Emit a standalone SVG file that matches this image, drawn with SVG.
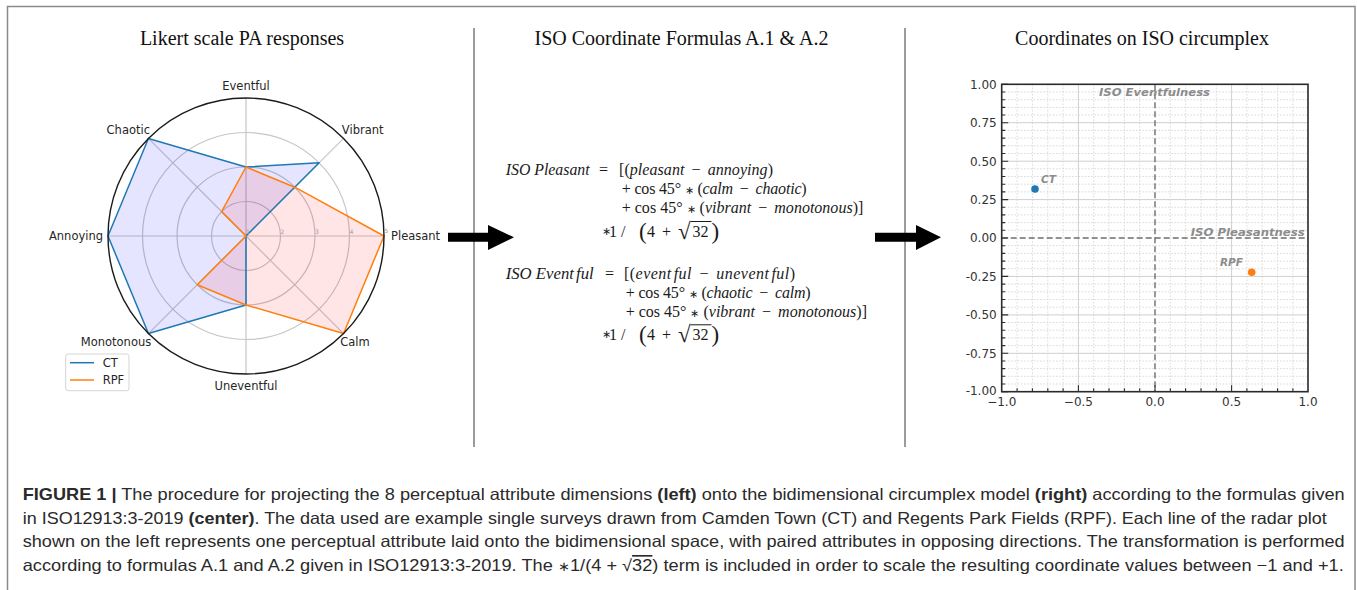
<svg xmlns="http://www.w3.org/2000/svg" width="1357" height="590" viewBox="0 0 1357 590">
<style>
.title{font-family:"Liberation Serif","Times New Roman",serif;font-size:20px;fill:#111;text-anchor:middle}
.lab{font-family:"DejaVu Sans",Verdana,sans-serif;font-size:11.5px;fill:#262626}
.rt{font-family:"DejaVu Sans",sans-serif;font-size:6px;fill:#9a9a9a}
.f{font-family:"Liberation Serif","Times New Roman",serif;font-size:16px;fill:#1a1a1a}
.i{font-style:italic}
.ast{font-size:11px}
.big{font-size:23px}
.tick{font-family:"DejaVu Sans",Verdana,sans-serif;font-size:12px;fill:#333}
.ann{font-family:"DejaVu Sans",Verdana,sans-serif;font-weight:bold;font-style:italic;fill:#8c8c8c}
.cap{font-family:"Liberation Sans",Arial,sans-serif;font-size:16.5px;fill:#2a2a2a}
.b{font-weight:bold}
.ring{fill:none;stroke:#c6c6c6;stroke-width:1.2}
</style>

<g id="frame">
<rect x="7.5" y="6.5" width="1347.5" height="620" fill="none" stroke="#8a8a8a" stroke-width="1.5"/>
<line x1="474" y1="28" x2="474" y2="447" stroke="#7a7a7a" stroke-width="1.5"/>
<line x1="905" y1="28" x2="905" y2="447" stroke="#7a7a7a" stroke-width="1.5"/>
</g>

<g id="panel-radar">
<text class="title" x="242" y="45">Likert  scale PA responses</text>
<circle class="ring" cx="246" cy="236" r="34.5"/>
<circle class="ring" cx="246" cy="236" r="69"/>
<circle class="ring" cx="246" cy="236" r="103.5"/>
<path d="M246 236L246 98M246 236L343.58 138.42M246 236L384 236M246 236L343.58 333.58M246 236L246 374M246 236L148.42 333.58M246 236L108 236M246 236L148.42 138.42" stroke="#c6c6c6" stroke-width="1.2" fill="none"/>
<polygon points="246,167 319.19,162.81 246,236 246,236 246,305 148.42,333.58 108,236 148.42,138.42" fill="#0000ff" fill-opacity="0.1"/>
<polygon points="246,167 294.79,187.21 384,236 343.58,333.58 246,305 197.21,284.79 246,236 221.6,211.6" fill="#ff0000" fill-opacity="0.1"/>
<polygon points="246,167 319.19,162.81 246,236 246,236 246,305 148.42,333.58 108,236 148.42,138.42" fill="none" stroke="#1f77b4" stroke-width="1.5" stroke-linejoin="round"/>
<polygon points="246,167 294.79,187.21 384,236 343.58,333.58 246,305 197.21,284.79 246,236 221.6,211.6" fill="none" stroke="#ff7f0e" stroke-width="1.5" stroke-linejoin="round"/>
<circle cx="246" cy="236" r="138" fill="none" stroke="#1a1a1a" stroke-width="1.4"/>
<text class="rt" x="246" y="234">1</text>
<text class="rt" x="280.5" y="234">2</text>
<text class="rt" x="315" y="234">3</text>
<text class="rt" x="349.5" y="234">4</text>
<text class="rt" x="384.5" y="233">5</text>
<text class="lab" x="246" y="90" text-anchor="middle">Eventful</text>
<text class="lab" x="362.7" y="134" text-anchor="middle">Vibrant</text>
<text class="lab" x="391" y="240">Pleasant</text>
<text class="lab" x="355" y="345.7" text-anchor="middle">Calm</text>
<text class="lab" x="246" y="389.7" text-anchor="middle">Uneventful</text>
<text class="lab" x="116" y="345.7" text-anchor="middle">Monotonous</text>
<text class="lab" x="76" y="240" text-anchor="middle">Annoying</text>
<text class="lab" x="128.3" y="134" text-anchor="middle">Chaotic</text>
</g>

<g id="legend">
<rect x="65.7" y="354" width="63.3" height="36.7" rx="2.5" fill="#fff" fill-opacity="0.8" stroke="#d4d4d4" stroke-width="1"/>
<line x1="70" y1="362.7" x2="94" y2="362.7" stroke="#1f77b4" stroke-width="1.5"/>
<line x1="70" y1="380" x2="94" y2="380" stroke="#ff7f0e" stroke-width="1.5"/>
<text class="lab" x="102.7" y="366.8">CT</text>
<text class="lab" x="102.7" y="384.1">RPF</text>
</g>

<g id="panel-formulas">
<text class="title" x="681.5" y="45">ISO Coordinate Formulas A.1 &amp; A.2</text>
<text class="f i" x="505.7" y="175" textLength="84" lengthAdjust="spacingAndGlyphs">ISO Pleasant</text>
<text class="f" x="599" y="175">=</text>
<text class="f" x="619" y="175" textLength="154" lengthAdjust="spacing">[(<tspan class="i">pleasant</tspan> <tspan dx="3">−</tspan> <tspan class="i" dx="3">annoying</tspan>)</text>
<text class="f" x="621.7" y="194" textLength="185" lengthAdjust="spacing">+ cos 45° <tspan class="ast">∗</tspan> (<tspan class="i">calm</tspan> <tspan dx="3">−</tspan> <tspan class="i" dx="3">chaotic</tspan>)</text>
<text class="f" x="621.7" y="212.7" textLength="241.6" lengthAdjust="spacing">+ cos 45° <tspan class="ast">∗</tspan> (<tspan class="i">vibrant</tspan> <tspan dx="3">−</tspan> <tspan class="i" dx="3">monotonous</tspan>)]</text>
<text class="f ast" x="602" y="234.5">∗</text>
<text class="f" x="609" y="236.7">1</text>
<text class="f" x="621" y="236.7">/</text>
<text class="f big" x="639" y="239">(</text>
<text class="f" x="647" y="236.7">4</text>
<text class="f" x="662" y="236.7">+</text>
<text class="f big" x="678" y="239">√</text>
<text class="f" x="692.5" y="236.7">32</text>
<line x1="690.5" y1="221.5" x2="711.5" y2="221.5" stroke="#1a1a1a" stroke-width="1"/>
<text class="f big" x="711.5" y="239">)</text>

<text class="f i" x="505.7" y="279.3" textLength="88" lengthAdjust="spacingAndGlyphs">ISO Event<tspan dx="2">ful</tspan></text>
<text class="f" x="605" y="279.3">=</text>
<text class="f" x="624" y="279.3" textLength="171" lengthAdjust="spacing">[(<tspan class="i">event</tspan><tspan class="i" dx="2">ful</tspan> <tspan dx="3">−</tspan> <tspan class="i" dx="3">unevent</tspan><tspan class="i" dx="2">ful</tspan>)</text>
<text class="f" x="625.7" y="298.3" textLength="185" lengthAdjust="spacing">+ cos 45° <tspan class="ast">∗</tspan> (<tspan class="i">chaotic</tspan> <tspan dx="3">−</tspan> <tspan class="i" dx="3">calm</tspan>)</text>
<text class="f" x="625.7" y="316.7" textLength="241.3" lengthAdjust="spacing">+ cos 45° <tspan class="ast">∗</tspan> (<tspan class="i">vibrant</tspan> <tspan dx="3">−</tspan> <tspan class="i" dx="3">monotonous</tspan>)]</text>
<text class="f ast" x="602" y="337.8">∗</text>
<text class="f" x="609" y="340">1</text>
<text class="f" x="621" y="340">/</text>
<text class="f big" x="639" y="342.3">(</text>
<text class="f" x="647" y="340">4</text>
<text class="f" x="662" y="340">+</text>
<text class="f big" x="678" y="342.3">√</text>
<text class="f" x="692.5" y="340">32</text>
<line x1="690.5" y1="324.8" x2="711.5" y2="324.8" stroke="#1a1a1a" stroke-width="1"/>
<text class="f big" x="711.5" y="342.3">)</text>
</g>

<g id="panel-plot">
<text class="title" x="1142" y="45">Coordinates on ISO circumplex</text>
<path d="M1017.1 84.3V391.7M1032.4 84.3V391.7M1047.8 84.3V391.7M1063.1 84.3V391.7M1093.7 84.3V391.7M1109 84.3V391.7M1124.4 84.3V391.7M1139.7 84.3V391.7M1170.3 84.3V391.7M1185.6 84.3V391.7M1201 84.3V391.7M1216.3 84.3V391.7M1246.9 84.3V391.7M1262.2 84.3V391.7M1277.6 84.3V391.7M1292.9 84.3V391.7M1001.7 230.3H1308M1001.7 222.6H1308M1001.7 214.9H1308M1001.7 207.3H1308M1001.7 191.9H1308M1001.7 184.2H1308M1001.7 176.5H1308M1001.7 168.8H1308M1001.7 153.5H1308M1001.7 145.8H1308M1001.7 138.1H1308M1001.7 130.4H1308M1001.7 115H1308M1001.7 107.4H1308M1001.7 99.7H1308M1001.7 92H1308M1001.7 245.7H1308M1001.7 253.4H1308M1001.7 261.1H1308M1001.7 268.7H1308M1001.7 284.1H1308M1001.7 291.8H1308M1001.7 299.5H1308M1001.7 307.2H1308M1001.7 322.5H1308M1001.7 330.2H1308M1001.7 337.9H1308M1001.7 345.6H1308M1001.7 361H1308M1001.7 368.6H1308M1001.7 376.3H1308M1001.7 384H1308" stroke="#d6d6d6" stroke-width="0.9" stroke-dasharray="1.6,1.6" fill="none"/>
<path d="M1078.4 84.3V391.7M1231.6 84.3V391.7M1001.7 122.7H1308M1001.7 161.2H1308M1001.7 199.6H1308M1001.7 276.4H1308M1001.7 314.9H1308M1001.7 353.3H1308" stroke="#cfcfcf" stroke-width="1" fill="none"/>
<line x1="1155" y1="84.3" x2="1155" y2="391.7" stroke="#6e6e6e" stroke-width="1.4" stroke-dasharray="6,3"/>
<line x1="1001.7" y1="238" x2="1308" y2="238" stroke="#6e6e6e" stroke-width="1.4" stroke-dasharray="6,3"/>
<path d="M1001.7 84.3h6.5M1001.7 122.7h6.5M1001.7 161.2h6.5M1001.7 199.6h6.5M1001.7 238h6.5M1001.7 276.4h6.5M1001.7 314.9h6.5M1001.7 353.3h6.5M1001.7 391.7h6.5M1001.7 230.3h3.5M1001.7 222.6h3.5M1001.7 214.9h3.5M1001.7 207.3h3.5M1001.7 191.9h3.5M1001.7 184.2h3.5M1001.7 176.5h3.5M1001.7 168.8h3.5M1001.7 153.5h3.5M1001.7 145.8h3.5M1001.7 138.1h3.5M1001.7 130.4h3.5M1001.7 115h3.5M1001.7 107.4h3.5M1001.7 99.7h3.5M1001.7 92h3.5M1001.7 245.7h3.5M1001.7 253.4h3.5M1001.7 261.1h3.5M1001.7 268.7h3.5M1001.7 284.1h3.5M1001.7 291.8h3.5M1001.7 299.5h3.5M1001.7 307.2h3.5M1001.7 322.5h3.5M1001.7 330.2h3.5M1001.7 337.9h3.5M1001.7 345.6h3.5M1001.7 361h3.5M1001.7 368.6h3.5M1001.7 376.3h3.5M1001.7 384h3.5M1078.4 391.7v-6.5M1155 391.7v-6.5M1231.6 391.7v-6.5M1017.1 391.7v-3.5M1032.4 391.7v-3.5M1047.8 391.7v-3.5M1063.1 391.7v-3.5M1093.7 391.7v-3.5M1109 391.7v-3.5M1124.4 391.7v-3.5M1139.7 391.7v-3.5M1170.3 391.7v-3.5M1185.6 391.7v-3.5M1201 391.7v-3.5M1216.3 391.7v-3.5M1246.9 391.7v-3.5M1262.2 391.7v-3.5M1277.6 391.7v-3.5M1292.9 391.7v-3.5" stroke="#2a2a2a" stroke-width="1.1" fill="none"/>
<rect x="1001.7" y="84.3" width="306.3" height="307.4" fill="none" stroke="#2a2a2a" stroke-width="1.6"/>
<text class="ann" x="1099" y="96" font-size="11" textLength="111" lengthAdjust="spacingAndGlyphs">ISO Eventfulness</text>
<text class="ann" x="1190.7" y="236" font-size="11" textLength="114" lengthAdjust="spacingAndGlyphs">ISO Pleasantness</text>
<text class="ann" x="1041" y="182.7" font-size="10.5">CT</text>
<text class="ann" x="1220" y="266" font-size="10.5">RPF</text>
<circle cx="1035" cy="189" r="3.8" fill="#1f77b4"/>
<circle cx="1251.7" cy="272.3" r="3.8" fill="#ff7f0e"/>
<g class="tick" text-anchor="end">
<text x="996.7" y="88.6">1.00</text>
<text x="996.7" y="127">0.75</text>
<text x="996.7" y="165.5">0.50</text>
<text x="996.7" y="203.9">0.25</text>
<text x="996.7" y="242.3">0.00</text>
<text x="996.7" y="280.7">-0.25</text>
<text x="996.7" y="319.2">-0.50</text>
<text x="996.7" y="357.6">-0.75</text>
<text x="996.7" y="395">-1.00</text>
</g>
<g class="tick" text-anchor="middle">
<text x="1001.7" y="406">−1.0</text>
<text x="1078.4" y="406">−0.5</text>
<text x="1155" y="406">0.0</text>
<text x="1231.6" y="406">0.5</text>
<text x="1308" y="406">1.0</text>
</g>
</g>

<g id="connectors">
<polygon points="448,232.7 488,232.7 488,225 514,237.3 488,250 488,241.7 448,241.7" fill="#000"/>
<polygon points="875,232.7 916,232.7 916,225 941,237.3 916,250 916,241.7 875,241.7" fill="#000"/>
</g>

<g id="caption">
<text class="cap" x="22.7" y="500" textLength="1322" lengthAdjust="spacingAndGlyphs"><tspan class="b">FIGURE 1 |</tspan> The procedure for projecting the 8 perceptual attribute dimensions <tspan class="b">(left)</tspan> onto the bidimensional circumplex model <tspan class="b">(right)</tspan> according to the formulas given</text>
<text class="cap" x="22.7" y="523.5" textLength="1304" lengthAdjust="spacingAndGlyphs">in ISO12913:3-2019 <tspan class="b">(center)</tspan>. The data used are example single surveys drawn from Camden Town (CT) and Regents Park Fields (RPF). Each line of the radar plot</text>
<text class="cap" x="22.7" y="547" textLength="1322" lengthAdjust="spacingAndGlyphs">shown on the left represents one perceptual attribute laid onto the bidimensional space, with paired attributes in opposing directions. The transformation is performed</text>
<text class="cap" x="22.7" y="571" textLength="1321" lengthAdjust="spacingAndGlyphs">according to formulas A.1 and A.2 given in ISO12913:3-2019. The <tspan font-size="13">∗</tspan>1/(4 + √<tspan text-decoration="overline">32</tspan>) term is included in order to scale the resulting coordinate values between −1 and +1.</text>
</g>
</svg>
